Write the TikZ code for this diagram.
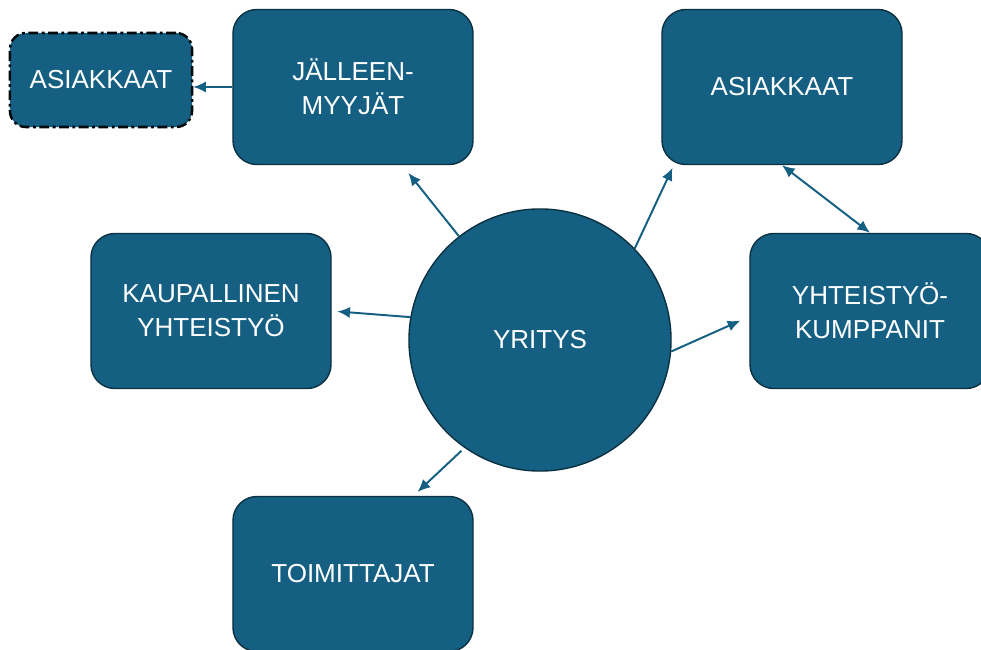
\documentclass[tikz,border=0pt]{standalone}
\usepackage{fontspec}
\setmainfont{Liberation Sans}
\usetikzlibrary{arrows.meta}
\definecolor{boxfill}{HTML}{156082}
\definecolor{boxline}{HTML}{0B3142}
\tikzstyle{block} = [rectangle, rounded corners=0.6cm, draw=boxline, fill=boxfill, line width=1pt, minimum width=6cm, minimum height=3.875cm, text=white, align=center, font=\fontsize{18.5}{24}\selectfont]
\tikzstyle{dashblock} = [block, rounded corners=0.4cm, minimum width=4.55cm, minimum height=2.35cm, draw=black!80!boxline, line width=1.8pt, dash pattern=on 7pt off 2.5pt on 2pt off 2.5pt]
\tikzstyle{hub} = [circle, draw=boxline, fill=boxfill, line width=1pt, minimum size=6.55cm, text=white, font=\fontsize{18.5}{24}\selectfont]
\tikzstyle{link} = [draw=boxfill, line width=1.4pt]

\begin{document}
\begin{tikzpicture}[x=0.025cm, y=-0.025cm, >={Latex[length=9pt, width=8pt]}]
        \useasboundingbox (0,0) rectangle (981,650);
        \clip (0,0) rectangle (981,650);

        \node[hub] (yritys) at (540,340) {YRITYS};
        \node[block] (jalleen) at (353,87) {JÄLLEEN-\\MYYJÄT};
        \node[dashblock] (asiakkaatv) at (101,80) {ASIAKKAAT};
        \node[block] (asiakkaat) at (782,87) {ASIAKKAAT};
        \node[block] (kaupallinen) at (211,311) {KAUPALLINEN\\YHTEISTYÖ};
        \node[block] (yhteistyo) at (870,311) {YHTEISTYÖ-\\KUMPPANIT};
        \node[block] (toimittajat) at (353,574) {TOIMITTAJAT};

        \draw[link, ->, shorten >=7pt] (yritys.128) -- ([xshift=35pt]jalleen.south);
        \draw[link, ->, shorten >=4pt] (yritys.170) -- (kaupallinen.east);
        \draw[link, ->, shorten <=3pt, shorten >=4pt] (yritys.235) -- ([xshift=43pt]toimittajat.north);
        \draw[link, ->, shorten >=2pt] (yritys.44) -- ([xshift=-77pt]asiakkaat.south);
        \draw[link, ->, shorten >=7pt] (yritys.-5) -- ([yshift=-4pt]yhteistyo.west);
        \draw[link, <->] (asiakkaat.south) -- (yhteistyo.north);
        \draw[link, ->] (jalleen.west) -- (jalleen.west -| asiakkaatv.east);
    \end{tikzpicture}
\end{document}
